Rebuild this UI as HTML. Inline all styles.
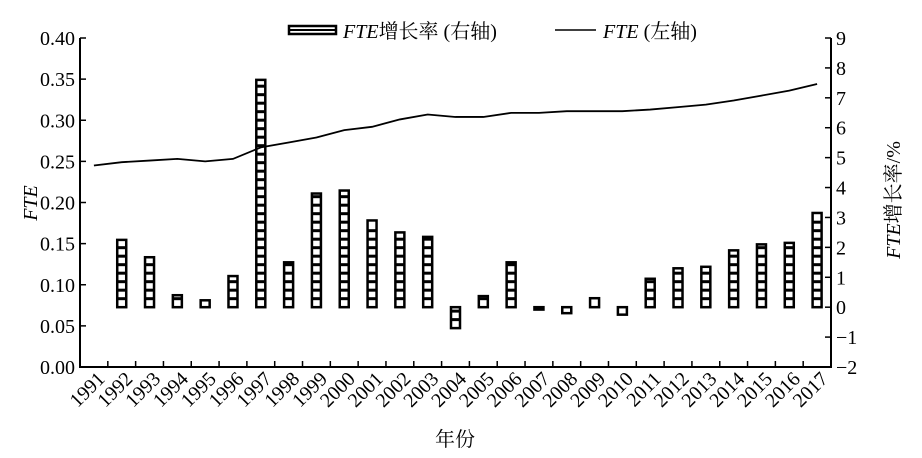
<!DOCTYPE html>
<html><head><meta charset="utf-8"><style>
body{margin:0;background:#fff}
svg{display:block;font-family:"Liberation Serif","Noto Serif CJK SC",serif}
</style></head><body>
<svg id="c" width="922" height="458" xmlns="http://www.w3.org/2000/svg"></svg>
<script>
const s=document.getElementById('c');
let h='';
const L=80,R=831,T=38,B=367,n=27,cw=(R-L)/n;
const yl=v=>B-v*(B-T)/0.4, yr=v=>B-(v+2)*(B-T)/11;
const cx=i=>L+cw*(i+0.5);
h+=`<path d="M${L},${T}V${B}H${R}V${T}" fill="none" stroke="#000" stroke-width="2"/>`;
for(let k=0;k<=8;k++){const y=yl(k*0.05);h+=`<line x1="${L}" x2="${L+6}" y1="${y}" y2="${y}" stroke="#000" stroke-width="1.5"/><text x="${L-5}" y="${y+7}" font-size="20" text-anchor="end">${(k*0.05).toFixed(2)}</text>`;}
for(let v=-2;v<=9;v++){const y=yr(v);h+=`<line x1="${R-6}" x2="${R}" y1="${y}" y2="${y}" stroke="#000" stroke-width="1.5"/><text x="${R+5}" y="${y+7}" font-size="20">${v<0?'−'+(-v):v}</text>`;}
for(let i=1;i<n;i++){const x=L+cw*i;h+=`<line x1="${x}" x2="${x}" y1="${B}" y2="${B-6}" stroke="#000" stroke-width="1.5"/>`;}
for(let i=0;i<n;i++){const x=cx(i)+12,y=B+13;h+=`<text x="${x}" y="${y}" font-size="20" text-anchor="end" transform="rotate(-45 ${x} ${y})">${1991+i}</text>`;}
const g=[null,2.25,1.67,0.4,0.23,1.04,7.6,1.5,3.8,3.9,2.9,2.5,2.35,-0.7,0.37,1.5,-0.08,-0.2,0.3,-0.25,0.95,1.3,1.35,1.9,2.1,2.15,3.15];
const z=yr(0);
g.forEach((v,i)=>{if(v===null)return;const x=cx(i)-4.5,w=9;const y1=Math.min(z,yr(v)),y2=Math.max(z,yr(v));
h+=`<rect x="${x}" y="${y1}" width="${w}" height="${y2-y1}" fill="#fff" stroke="#000" stroke-width="2.5"/>`;
for(let y=y2-8.5;y>y1+2;y-=8.5)h+=`<line x1="${x}" x2="${x+w}" y1="${y}" y2="${y}" stroke="#000" stroke-width="3"/>`;});
const f=[0.245,0.249,0.251,0.253,0.250,0.253,0.267,0.273,0.279,0.288,0.292,0.301,0.307,0.304,0.304,0.309,0.309,0.311,0.311,0.311,0.313,0.316,0.319,0.324,0.330,0.336,0.344];
h+=`<polyline fill="none" stroke="#000" stroke-width="1.8" points="${f.map((v,i)=>cx(i)+','+yl(v)).join(' ')}"/>`;
h+=`<rect x="289" y="26" width="47" height="8" fill="#fff" stroke="#000" stroke-width="2.5"/><line x1="289" x2="336" y1="30" y2="30" stroke="#000" stroke-width="2"/>`;
h+=`<text x="343" y="38" font-size="20"><tspan font-style="italic">FTE</tspan>增长率 (右轴)</text>`;
h+=`<line x1="555" x2="596" y1="30" y2="30" stroke="#000" stroke-width="1.5"/>`;
h+=`<text x="603" y="38" font-size="20"><tspan font-style="italic">FTE</tspan> (左轴)</text>`;
h+=`<text x="37" y="203" font-size="20" font-style="italic" text-anchor="middle" transform="rotate(-90 37 203)">FTE</text>`;
h+=`<text x="900" y="200" font-size="20" text-anchor="middle" transform="rotate(-90 900 200)"><tspan font-style="italic">FTE</tspan>增长率/%</text>`;
h+=`<text x="455" y="446" font-size="20" text-anchor="middle">年份</text>`;
s.innerHTML=h;
</script>
</body></html>
